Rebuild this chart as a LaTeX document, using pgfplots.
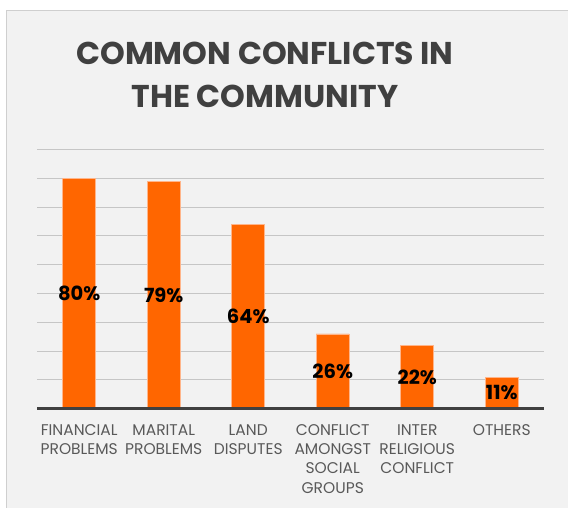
\documentclass[border=0pt]{standalone}
\usepackage{pgfplots}
\pgfplotsset{compat=1.18}
\usepackage{pgfplotstable}
\usepackage{fontspec}
\setmainfont{Poppins}
\definecolor{barorange}{HTML}{FF6600}
\definecolor{baredge}{HTML}{FFB58A}
\definecolor{panel}{HTML}{F2F2F2}
\definecolor{panelborder}{HTML}{CFCFCF}
\definecolor{titlegray}{HTML}{404040}
\definecolor{labelgray}{HTML}{595959}
\definecolor{gridgray}{HTML}{C6C6C6}
\pgfplotstableread{
x v
0 80
1 79
2 64
3 26
4 22
5 11
}\conflicts
\begin{document}
\begin{tikzpicture}[x=1pt,y=1pt]
\useasboundingbox (0,0) rectangle (568,508);
\fill[white] (0,0) rectangle (568,508);
\filldraw[fill=panel, draw=panelborder, line width=1pt] (6.5,-2) rectangle (570,497.5);
\node[align=center, font={\fontsize{31.5}{42.5}\selectfont\bfseries}, text=titlegray] at (265,433) {COMMON CONFLICTS IN\\THE COMMUNITY};
\begin{axis}[
  at={(37pt,99.3pt)}, anchor=south west,
  scale only axis, width=507pt, height=259.2pt,
  xmin=-0.5, xmax=5.5, ymin=0, ymax=90,
  axis line style={draw=none},
  ytick={10,20,...,90}, yticklabels={},
  ymajorgrids, grid style={gridgray, line width=0.9pt},
  major tick length=0pt,
  xtick={0,...,5},
  xticklabels={FINANCIAL\\PROBLEMS, MARITAL\\PROBLEMS, LAND\\DISPUTES, CONFLICT\\AMONGST\\SOCIAL\\GROUPS, INTER\\RELIGIOUS\\CONFLICT, OTHERS},
  xticklabel style={align=center, text=labelgray, font={\fontsize{15.5}{19.3}\selectfont}, yshift=-12pt},
  /pgf/number format/assume math mode=true,
  clip=false,
]
\addplot[ybar, bar width=33pt, fill=barorange, draw=baredge, line width=0.6pt] table[x=x, y=v] {\conflicts};
\addplot[only marks, mark=none, nodes near coords={\pgfmathprintnumber{\pgfplotspointmeta}\%}, nodes near coords align=center, point meta=explicit, every node near coord/.append style={font={\fontsize{19.5}{20}\selectfont\bfseries}, text=black, anchor=center}] table[x=x, y expr=\thisrow{v}/2, meta=v] {\conflicts};
\draw[titlegray, line width=3.5pt] (rel axis cs:0,0) -- (rel axis cs:1,0);
\end{axis}
\end{tikzpicture}
\end{document}
